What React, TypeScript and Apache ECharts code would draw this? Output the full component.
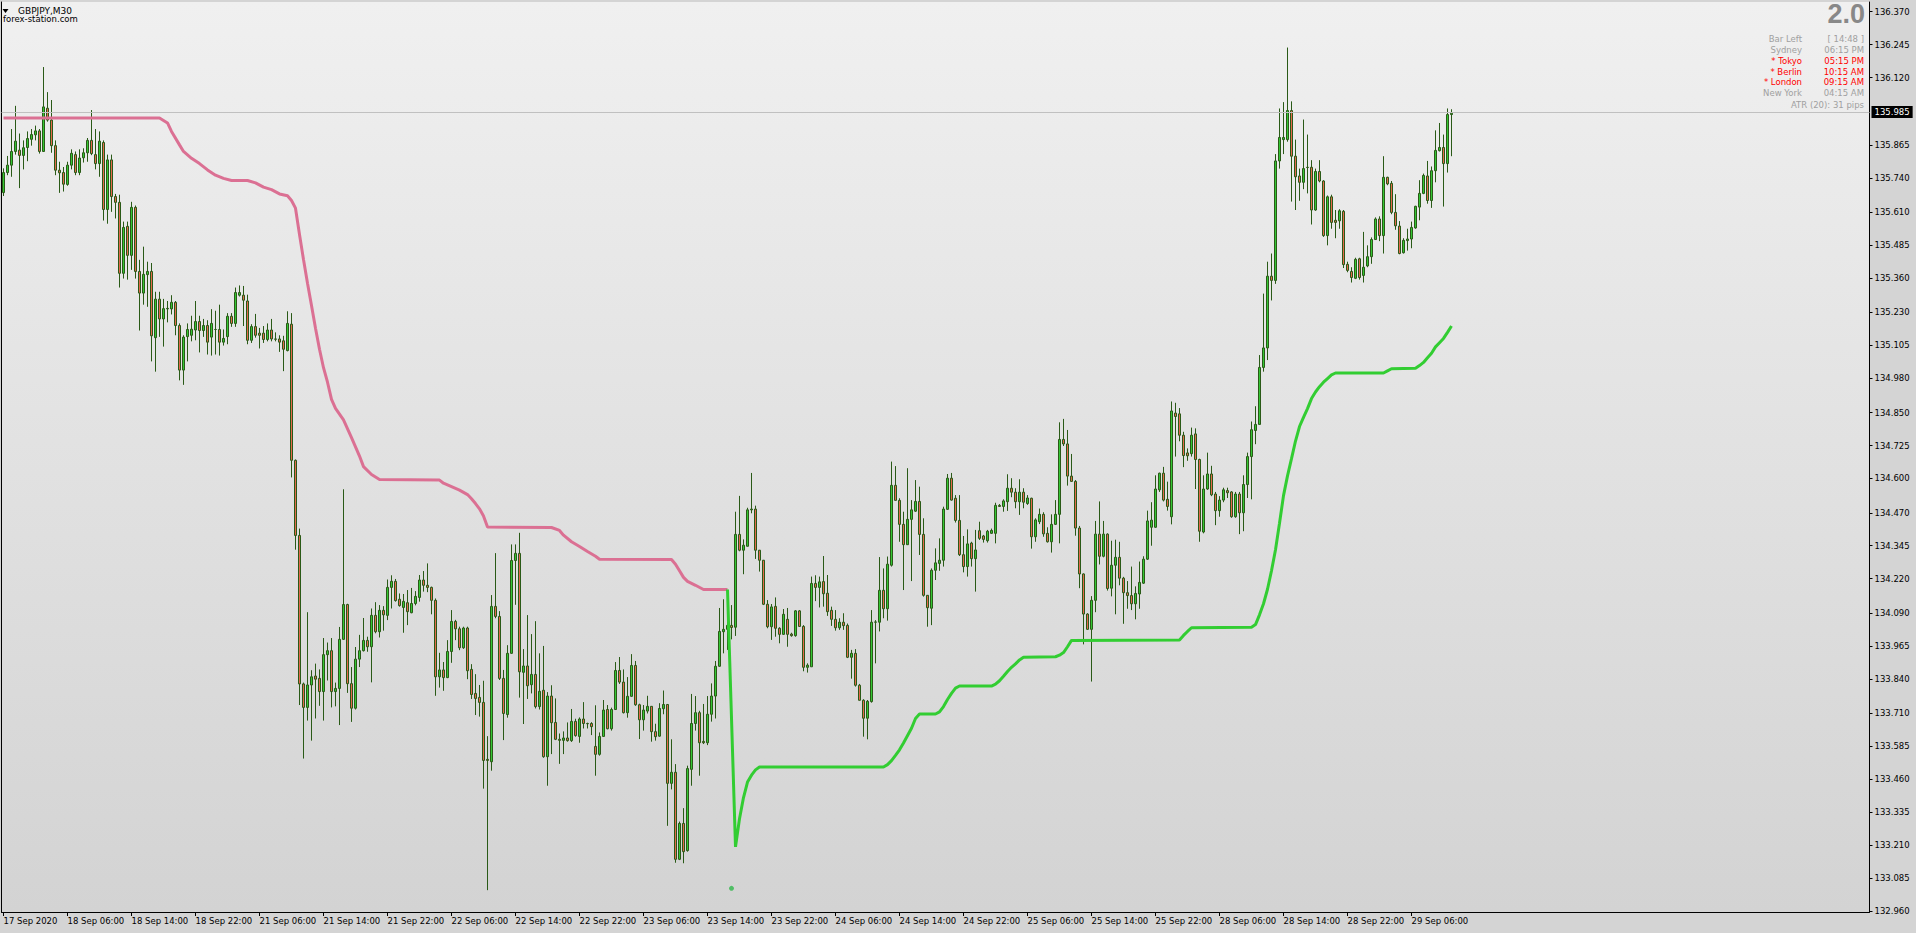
import React, { useEffect, useRef } from 'react';
import * as echarts from 'echarts';

const symbolTitle = 'GBPJPY,M30';
const siteLabel = 'forex-station.com';

const xTickLabels = [
  '17 Sep 2020', '18 Sep 06:00', '18 Sep 14:00', '18 Sep 22:00', '21 Sep 06:00', '21 Sep 14:00',
  '21 Sep 22:00', '22 Sep 06:00', '22 Sep 14:00', '22 Sep 22:00', '23 Sep 06:00', '23 Sep 14:00',
  '23 Sep 22:00', '24 Sep 06:00', '24 Sep 14:00', '24 Sep 22:00', '25 Sep 06:00', '25 Sep 14:00',
  '25 Sep 22:00', '28 Sep 06:00', '28 Sep 14:00', '28 Sep 22:00', '29 Sep 06:00',
];

const yTickValues = [
  132.960, 133.085, 133.210, 133.335, 133.460, 133.585, 133.710, 133.840, 133.965, 134.090,
  134.220, 134.345, 134.470, 134.600, 134.725, 134.850, 134.980, 135.105, 135.230, 135.360,
  135.485, 135.610, 135.740, 135.865, 136.120, 136.245, 136.370,
];

const opens = [
  135.684, 135.760, 135.788, 135.840, 135.845, 135.825, 135.855, 135.886, 135.903, 135.918,
  135.840, 136.004, 135.959, 135.862, 135.769, 135.760, 135.715, 135.788, 135.828, 135.760,
  135.816, 135.835, 135.882, 135.828, 135.794, 135.874, 135.620, 135.808, 135.669, 135.647,
  135.378, 135.556, 135.446, 135.628, 135.385, 135.303, 135.373, 135.385, 135.134, 135.280,
  135.205, 135.243, 135.243, 135.268, 135.180, 135.011, 135.138, 135.143, 135.163, 135.195,
  135.161, 135.180, 135.136, 135.165, 135.165, 135.117, 135.138, 135.215, 135.188, 135.295,
  135.295, 135.273, 135.124, 135.176, 135.151, 135.151, 135.127, 135.163, 135.129, 135.129,
  135.122, 135.085, 135.185, 134.669, 134.384, 133.821, 133.732, 133.817, 133.851, 133.842,
  133.792, 133.932, 133.947, 133.792, 133.804, 133.990, 134.122, 133.822, 133.729, 133.915,
  133.947, 133.986, 133.962, 134.081, 134.019, 134.100, 134.081, 134.187, 134.210, 134.142,
  134.111, 134.129, 134.091, 134.126, 134.149, 134.215, 134.195, 134.187, 134.138, 133.848,
  133.874, 133.845, 133.944, 134.058, 134.030, 133.958, 134.033, 133.876, 133.785, 133.770,
  133.751, 133.535, 133.526, 134.115, 134.077, 133.842, 133.705, 133.937, 134.289, 134.316,
  133.865, 133.889, 133.818, 133.857, 133.735, 133.797, 133.545, 133.775, 133.675, 133.611,
  133.607, 133.616, 133.606, 133.679, 133.622, 133.688, 133.671, 133.671, 133.584, 133.554,
  133.622, 133.724, 133.651, 133.724, 133.872, 133.828, 133.712, 133.774, 133.891, 133.742,
  133.685, 133.718, 133.736, 133.640, 133.623, 133.727, 133.743, 133.444, 133.486, 133.156,
  133.292, 133.189, 133.497, 133.671, 133.712, 133.603, 133.598, 133.706, 133.775, 133.888,
  134.019, 134.028, 134.043, 134.036, 134.388, 134.328, 134.343, 134.481, 134.484, 134.328,
  134.290, 134.123, 134.038, 134.115, 134.032, 134.009, 134.066, 134.010, 134.004, 134.098,
  134.039, 133.884, 133.886, 134.202, 134.187, 134.209, 134.165, 134.100, 134.066, 134.034,
  134.055, 134.043, 133.922, 133.937, 133.816, 133.759, 133.691, 133.754, 134.055, 134.055,
  134.176, 134.106, 134.271, 134.574, 134.517, 134.426, 134.349, 134.445, 134.476, 134.513,
  134.388, 134.157, 134.108, 134.252, 134.278, 134.290, 134.483, 134.601, 134.525, 134.441,
  134.311, 134.266, 134.355, 134.296, 134.402, 134.382, 134.364, 134.392, 134.392, 134.498,
  134.494, 134.512, 134.563, 134.548, 134.512, 134.548, 134.505, 134.525, 134.379, 134.436,
  134.464, 134.392, 134.360, 134.426, 134.464, 134.748, 134.731, 134.609, 134.589, 134.412,
  134.238, 134.086, 134.028, 134.138, 134.389, 134.305, 134.389, 134.184, 134.271, 134.301,
  134.222, 134.167, 134.156, 134.125, 134.162, 134.203, 134.294, 134.415, 134.415, 134.557,
  134.620, 134.521, 134.455, 134.848, 134.845, 134.764, 134.697, 134.694, 134.769, 134.672,
  134.397, 134.560, 134.617, 134.541, 134.478, 134.518, 134.554, 134.549, 134.455, 134.541,
  134.470, 134.577, 134.683, 134.782, 134.805, 135.021, 135.095, 135.367, 135.351, 135.804,
  135.885, 135.885, 135.995, 135.822, 135.747, 135.723, 135.780, 135.780, 135.618, 135.764,
  135.728, 135.521, 135.668, 135.579, 135.577, 135.613, 135.412, 135.385, 135.359, 135.433,
  135.370, 135.406, 135.441, 135.506, 135.584, 135.521, 135.742, 135.719, 135.609, 135.557,
  135.456, 135.502, 135.508, 135.550, 135.629, 135.681, 135.747, 135.654, 135.767, 135.843,
  135.855, 135.794, 135.980,
];

const highs = [
  135.776, 135.823, 135.925, 136.013, 135.908, 135.882, 135.916, 135.925, 135.938, 135.925,
  136.160, 136.065, 136.035, 135.882, 135.801, 135.781, 135.801, 135.848, 135.840, 135.848,
  135.852, 135.891, 135.997, 135.925, 135.916, 135.882, 135.828, 135.828, 135.679, 135.676,
  135.574, 135.574, 135.649, 135.635, 135.429, 135.479, 135.422, 135.417, 135.308, 135.308,
  135.281, 135.273, 135.295, 135.273, 135.188, 135.143, 135.188, 135.217, 135.273, 135.217,
  135.205, 135.200, 135.242, 135.236, 135.259, 135.165, 135.227, 135.227, 135.324, 135.332,
  135.330, 135.297, 135.185, 135.224, 135.171, 135.178, 135.188, 135.205, 135.154, 135.143,
  135.141, 135.234, 135.227, 134.672, 134.410, 133.826, 134.093, 133.873, 133.898, 133.876,
  133.995, 133.978, 133.995, 133.826, 134.037, 134.559, 134.125, 133.885, 133.961, 134.007,
  134.071, 134.000, 134.107, 134.131, 134.120, 134.116, 134.217, 134.233, 134.219, 134.164,
  134.162, 134.177, 134.185, 134.173, 134.234, 134.249, 134.278, 134.190, 134.145, 133.939,
  133.904, 133.987, 134.101, 134.064, 134.038, 134.038, 134.038, 133.896, 133.858, 133.817,
  133.833, 133.623, 134.158, 134.317, 134.097, 133.874, 133.968, 134.350, 134.350, 134.394,
  133.953, 134.082, 134.010, 134.059, 133.937, 133.965, 133.790, 133.816, 133.766, 133.633,
  133.641, 133.675, 133.726, 133.689, 133.694, 133.752, 133.674, 133.676, 133.740, 133.637,
  133.760, 133.741, 133.731, 133.904, 133.923, 133.876, 133.847, 133.934, 133.908, 133.746,
  133.741, 133.776, 133.737, 133.670, 133.748, 133.796, 133.745, 133.611, 133.517, 133.299,
  133.350, 133.511, 133.783, 133.775, 133.719, 133.745, 133.775, 133.823, 133.908, 134.109,
  134.142, 134.101, 134.120, 134.474, 134.534, 134.369, 134.489, 134.621, 134.497, 134.329,
  134.291, 134.139, 134.124, 134.149, 134.036, 134.105, 134.109, 134.015, 134.101, 134.101,
  134.044, 133.899, 134.228, 134.233, 134.228, 134.306, 134.234, 134.114, 134.101, 134.070,
  134.089, 134.050, 133.950, 133.953, 133.821, 133.763, 133.760, 134.101, 134.063, 134.302,
  134.259, 134.304, 134.664, 134.647, 134.525, 134.474, 134.639, 134.518, 134.594, 134.569,
  134.449, 134.158, 134.259, 134.335, 134.373, 134.493, 134.617, 134.621, 134.537, 134.537,
  134.382, 134.407, 134.360, 134.405, 134.436, 134.386, 134.405, 134.410, 134.508, 134.503,
  134.521, 134.616, 134.601, 134.563, 134.597, 134.563, 134.537, 134.527, 134.449, 134.486,
  134.472, 134.415, 134.464, 134.518, 134.813, 134.826, 134.784, 134.693, 134.594, 134.420,
  134.240, 134.089, 134.154, 134.439, 134.513, 134.439, 134.392, 134.364, 134.368, 134.360,
  134.227, 134.211, 134.266, 134.191, 134.285, 134.305, 134.478, 134.510, 134.612, 134.622,
  134.644, 134.588, 134.892, 134.887, 134.867, 134.777, 134.714, 134.793, 134.790, 134.675,
  134.612, 134.698, 134.648, 134.549, 134.533, 134.565, 134.565, 134.552, 134.549, 134.549,
  134.612, 134.698, 134.816, 134.874, 135.068, 135.301, 135.422, 135.453, 135.830, 136.003,
  136.027, 136.234, 136.030, 135.885, 135.775, 135.961, 135.904, 135.807, 135.775, 135.807,
  135.731, 135.673, 135.676, 135.618, 135.621, 135.618, 135.422, 135.401, 135.437, 135.437,
  135.535, 135.484, 135.514, 135.590, 135.594, 135.822, 135.744, 135.728, 135.678, 135.576,
  135.511, 135.547, 135.574, 135.634, 135.731, 135.756, 135.804, 135.783, 135.920, 135.948,
  135.904, 136.003, 136.000,
];

const lows = [
  135.671, 135.750, 135.744, 135.828, 135.701, 135.772, 135.803, 135.862, 135.882, 135.832,
  135.838, 135.953, 135.835, 135.750, 135.683, 135.688, 135.710, 135.772, 135.750, 135.750,
  135.798, 135.801, 135.826, 135.772, 135.744, 135.578, 135.566, 135.611, 135.586, 135.324,
  135.358, 135.354, 135.391, 135.358, 135.161, 135.259, 135.251, 135.044, 135.005, 135.137,
  135.100, 135.192, 135.222, 135.143, 134.972, 134.955, 135.044, 135.120, 135.124, 135.078,
  135.137, 135.070, 135.066, 135.070, 135.066, 135.104, 135.109, 135.175, 135.175, 135.290,
  135.178, 135.109, 135.114, 135.134, 135.093, 135.114, 135.120, 135.120, 135.120, 135.080,
  135.007, 135.082, 134.604, 134.330, 133.741, 133.538, 133.682, 133.606, 133.690, 133.738,
  133.682, 133.834, 133.732, 133.736, 133.665, 133.988, 133.787, 133.677, 133.724, 133.885,
  133.944, 133.943, 133.827, 134.013, 133.997, 134.023, 134.063, 134.107, 134.133, 134.114,
  134.015, 134.044, 134.089, 134.119, 134.133, 134.171, 134.169, 134.085, 133.776, 133.807,
  133.795, 133.843, 133.901, 133.987, 133.949, 133.954, 133.839, 133.764, 133.703, 133.697,
  133.424, 133.039, 133.492, 134.070, 133.836, 133.608, 133.693, 133.935, 134.121, 133.769,
  133.669, 133.764, 133.785, 133.728, 133.724, 133.541, 133.435, 133.555, 133.608, 133.518,
  133.555, 133.602, 133.601, 133.621, 133.598, 133.652, 133.652, 133.627, 133.473, 133.549,
  133.621, 133.649, 133.644, 133.722, 133.821, 133.709, 133.693, 133.772, 133.738, 133.612,
  133.644, 133.709, 133.602, 133.606, 133.621, 133.706, 133.283, 133.421, 133.143, 133.153,
  133.141, 133.185, 133.435, 133.644, 133.473, 133.593, 133.589, 133.678, 133.690, 133.886,
  133.937, 133.950, 133.990, 134.003, 134.324, 134.237, 134.342, 134.468, 134.295, 134.247,
  134.120, 134.032, 133.988, 134.000, 133.975, 134.007, 133.962, 134.000, 134.000, 134.038,
  133.869, 133.864, 133.886, 134.135, 134.111, 134.114, 134.079, 134.041, 134.023, 134.026,
  134.026, 133.919, 133.841, 133.811, 133.758, 133.621, 133.611, 133.750, 133.899, 134.020,
  134.070, 134.061, 134.266, 134.516, 134.360, 134.177, 134.348, 134.211, 134.473, 134.310,
  134.152, 134.038, 134.044, 134.215, 134.250, 134.266, 134.481, 134.516, 134.433, 134.306,
  134.244, 134.228, 134.266, 134.171, 134.367, 134.357, 134.357, 134.390, 134.354, 134.492,
  134.474, 134.477, 134.529, 134.487, 134.462, 134.487, 134.500, 134.334, 134.360, 134.427,
  134.379, 134.357, 134.319, 134.424, 134.354, 134.723, 134.573, 134.588, 134.383, 134.184,
  133.971, 134.026, 133.830, 134.093, 134.274, 134.301, 134.175, 134.153, 134.085, 134.195,
  134.049, 134.106, 134.101, 134.066, 134.106, 134.200, 134.291, 134.345, 134.413, 134.549,
  134.513, 134.478, 134.426, 134.683, 134.741, 134.643, 134.667, 134.683, 134.560, 134.360,
  134.392, 134.557, 134.533, 134.423, 134.455, 134.510, 134.526, 134.451, 134.451, 134.389,
  134.400, 134.526, 134.521, 134.730, 134.805, 135.005, 135.049, 135.275, 135.338, 135.775,
  135.830, 135.877, 135.650, 135.618, 135.653, 135.697, 135.681, 135.563, 135.615, 135.723,
  135.516, 135.484, 135.547, 135.511, 135.547, 135.398, 135.382, 135.343, 135.356, 135.354,
  135.343, 135.401, 135.414, 135.505, 135.500, 135.453, 135.712, 135.602, 135.543, 135.450,
  135.453, 135.464, 135.473, 135.547, 135.579, 135.678, 135.642, 135.626, 135.723, 135.840,
  135.631, 135.760, 135.822,
];

const closes = [
  135.760, 135.788, 135.840, 135.879, 135.825, 135.854, 135.889, 135.904, 135.918, 135.840,
  136.009, 135.959, 135.862, 135.769, 135.759, 135.716, 135.788, 135.833, 135.760, 135.815,
  135.835, 135.882, 135.832, 135.794, 135.879, 135.620, 135.808, 135.669, 135.647, 135.378,
  135.552, 135.446, 135.628, 135.385, 135.303, 135.374, 135.385, 135.141, 135.280, 135.205,
  135.244, 135.245, 135.268, 135.180, 135.011, 135.136, 135.165, 135.166, 135.195, 135.161,
  135.180, 135.117, 135.188, 135.165, 135.117, 135.131, 135.215, 135.188, 135.305, 135.305,
  135.276, 135.124, 135.176, 135.143, 135.143, 135.127, 135.163, 135.129, 135.128, 135.117,
  135.090, 135.188, 134.669, 134.384, 133.821, 133.732, 133.817, 133.848, 133.839, 133.792,
  133.932, 133.947, 133.792, 133.804, 133.990, 134.122, 133.822, 133.729, 133.915, 133.947,
  133.986, 133.962, 134.081, 134.019, 134.100, 134.083, 134.187, 134.210, 134.137, 134.118,
  134.134, 134.095, 134.126, 134.153, 134.215, 134.195, 134.187, 134.138, 133.848, 133.874,
  133.845, 133.944, 134.058, 134.030, 133.958, 134.033, 133.871, 133.781, 133.766, 133.751,
  133.531, 133.531, 134.115, 134.077, 133.842, 133.709, 133.937, 134.289, 134.316, 133.867,
  133.889, 133.814, 133.857, 133.735, 133.793, 133.545, 133.775, 133.674, 133.611, 133.607,
  133.616, 133.606, 133.679, 133.625, 133.688, 133.671, 133.670, 133.659, 133.554, 133.622,
  133.722, 133.651, 133.724, 133.872, 133.828, 133.712, 133.774, 133.891, 133.742, 133.685,
  133.722, 133.736, 133.640, 133.621, 133.728, 133.743, 133.444, 133.486, 133.156, 133.292,
  133.185, 133.500, 133.671, 133.712, 133.598, 133.598, 133.706, 133.775, 133.888, 134.020,
  134.028, 134.043, 134.035, 134.388, 134.328, 134.347, 134.481, 134.484, 134.328, 134.290,
  134.123, 134.038, 134.113, 134.032, 134.009, 134.085, 134.009, 134.004, 134.098, 134.039,
  133.884, 133.892, 134.202, 134.187, 134.208, 134.163, 134.095, 134.066, 134.034, 134.055,
  134.042, 133.922, 133.937, 133.816, 133.759, 133.691, 133.755, 134.055, 134.056, 134.176,
  134.106, 134.275, 134.574, 134.517, 134.426, 134.349, 134.445, 134.481, 134.513, 134.388,
  134.157, 134.110, 134.252, 134.280, 134.290, 134.484, 134.601, 134.518, 134.441, 134.311,
  134.266, 134.352, 134.296, 134.329, 134.373, 134.369, 134.400, 134.403, 134.498, 134.494,
  134.515, 134.563, 134.548, 134.512, 134.548, 134.510, 134.526, 134.379, 134.443, 134.464,
  134.390, 134.360, 134.426, 134.464, 134.748, 134.731, 134.609, 134.589, 134.412, 134.238,
  134.086, 134.028, 134.138, 134.389, 134.305, 134.389, 134.183, 134.271, 134.301, 134.222,
  134.167, 134.156, 134.125, 134.164, 134.206, 134.294, 134.439, 134.442, 134.560, 134.620,
  134.518, 134.494, 134.856, 134.835, 134.764, 134.687, 134.686, 134.764, 134.672, 134.400,
  134.560, 134.617, 134.538, 134.478, 134.518, 134.557, 134.546, 134.455, 134.541, 134.470,
  134.577, 134.683, 134.785, 134.805, 135.021, 135.095, 135.367, 135.351, 135.804, 135.893,
  135.893, 135.995, 135.822, 135.744, 135.723, 135.775, 135.779, 135.618, 135.764, 135.728,
  135.521, 135.668, 135.571, 135.571, 135.615, 135.411, 135.389, 135.362, 135.431, 135.362,
  135.401, 135.441, 135.506, 135.584, 135.521, 135.742, 135.717, 135.609, 135.558, 135.453,
  135.503, 135.508, 135.552, 135.632, 135.681, 135.749, 135.654, 135.767, 135.844, 135.855,
  135.794, 135.980, 135.985,
];

// Resistance (pink) trailing line: [bar index, price]
const resistanceLine = [
  [0, 135.967], [39, 135.967], [41, 135.948], [42, 135.916], [44, 135.865], [45, 135.840],
  [47, 135.814], [49, 135.794], [51, 135.770], [53, 135.750], [55, 135.738], [57, 135.730],
  [61, 135.730], [63, 135.721], [65, 135.705], [67, 135.695], [69, 135.679], [71, 135.672],
  [72, 135.654], [73, 135.625], [74, 135.525], [75, 135.430], [76, 135.340], [77, 135.256],
  [78, 135.170], [79, 135.090], [80, 135.020], [81, 134.965], [82, 134.900], [83, 134.866],
  [85, 134.822], [87, 134.755], [89, 134.685], [90, 134.645], [92, 134.615], [94, 134.596],
  [109, 134.594], [110, 134.582], [112, 134.569], [114, 134.556], [116, 134.539], [117, 134.523],
  [118, 134.505], [119, 134.485], [120, 134.458], [121, 134.416], [137, 134.414], [139, 134.403],
  [140, 134.385], [142, 134.360], [144, 134.342], [146, 134.323], [148, 134.305], [149, 134.294],
  [167, 134.293], [168, 134.275], [169, 134.250], [170, 134.225], [171, 134.210], [173, 134.195],
  [175, 134.179], [181, 134.179],
];

// Support (green) trailing line: [bar index, price]
const supportLine = [
  [181, 134.179], [183, 133.203], [184, 133.310], [185, 133.390], [186, 133.449], [187, 133.475],
  [188, 133.495], [189, 133.506], [220, 133.506], [221, 133.515], [222, 133.530], [223, 133.550],
  [224, 133.571], [225, 133.597], [227, 133.653], [228, 133.690], [229, 133.707], [233, 133.707],
  [234, 133.715], [235, 133.735], [236, 133.762], [237, 133.785], [238, 133.805], [239, 133.813],
  [247, 133.813], [248, 133.820], [249, 133.833], [250, 133.850], [251, 133.868], [252, 133.884],
  [253, 133.897], [254, 133.912], [255, 133.922], [263, 133.924], [264, 133.930], [265, 133.940],
  [266, 133.962], [267, 133.986], [294, 133.988], [295, 134.005], [296, 134.020], [297, 134.034],
  [312, 134.036], [313, 134.046], [314, 134.083], [315, 134.125], [316, 134.180], [317, 134.250],
  [318, 134.330], [319, 134.430], [320, 134.535], [321, 134.610], [322, 134.675], [323, 134.742],
  [324, 134.797], [325, 134.832], [326, 134.865], [327, 134.903], [328, 134.928], [329, 134.948],
  [330, 134.965], [331, 134.979], [332, 134.993], [333, 135.000], [345, 135.000], [346, 135.008],
  [347, 135.016], [353, 135.018], [354, 135.028], [355, 135.040], [356, 135.058], [357, 135.075],
  [358, 135.099], [359, 135.115], [360, 135.131], [361, 135.154], [362, 135.178],
];

const signalDots = [[182, 133.046]];

const lastPrice = 135.985;

const infoTitle = '2.0';
const infoLabels = ['Bar Left', 'Sydney', '* Tokyo', '* Berlin', '* London', 'New York'];
const infoValues = ['[ 14:48 ]', '06:15 PM', '05:15 PM', '10:15 AM', '09:15 AM', '04:15 AM'];
const infoActive = [false, false, true, true, true, false];
const atrText = 'ATR (20): 31 pips';

const TOTAL_SLOTS = 467;
const LABEL_STEP = 16;
const Y_MIN = 132.9562;
const Y_MAX = 136.4067;

const FONT = '"DejaVu Sans", Verdana, sans-serif';

export default function App() {
  const ref = useRef<HTMLDivElement>(null);

  useEffect(() => {
    document.body.style.margin = '0';
    if (!ref.current) return;
    const chart = echarts.init(ref.current, null, { renderer: 'svg' });

    const categories = Array.from({ length: TOTAL_SLOTS }, (_, i) => String(i));
    const candles = opens.map((o, i) => [o, closes[i], lows[i], highs[i]]);
    const lastLabelIndex = (xTickLabels.length - 1) * LABEL_STEP;
    const showTick = (index: number) => index % LABEL_STEP === 0 && index <= lastLabelIndex;

    const panelRight = 1864;
    const panelLabelRight = 1802;
    const rowY = [39, 50, 61, 71.5, 82.3, 93.2];

    const graphics: any[] = [
      {
        type: 'polygon',
        shape: { points: [[2.5, 9], [8.5, 9], [5.5, 13]] },
        style: { fill: '#000' },
      },
      {
        type: 'text', x: 18, y: 10.5,
        style: { text: symbolTitle, fill: '#000', fontSize: 9, fontFamily: FONT, verticalAlign: 'middle', align: 'left' },
      },
      {
        type: 'text', x: 3, y: 18.5,
        style: { text: siteLabel, fill: '#000', fontSize: 8.5, fontFamily: FONT, verticalAlign: 'middle', align: 'left' },
      },
      {
        type: 'text', x: panelRight + 1, y: 14,
        style: {
          text: infoTitle, fill: '#888888', fontSize: 27, fontWeight: 'bold',
          fontFamily: '"Liberation Sans", Arial, sans-serif', align: 'right', verticalAlign: 'middle',
        },
      },
    ];
    infoLabels.forEach((label, k) => {
      const color = infoActive[k] ? '#ff0000' : '#a0a0a0';
      graphics.push({
        type: 'text', x: panelLabelRight, y: rowY[k],
        style: { text: label, fill: color, fontSize: 8.5, fontFamily: FONT, align: 'right', verticalAlign: 'middle' },
      });
      graphics.push({
        type: 'text', x: panelRight, y: rowY[k],
        style: { text: infoValues[k], fill: color, fontSize: 8.5, fontFamily: FONT, align: 'right', verticalAlign: 'middle' },
      });
    });
    graphics.push({
      type: 'text', x: panelRight, y: 104.5,
      style: { text: atrText, fill: '#a0a0a0', fontSize: 8.5, fontFamily: FONT, align: 'right', verticalAlign: 'middle' },
    });

    const option: any = {
      animation: false,
      backgroundColor: '#d4d4d4',
      grid: {
        left: 1.5, right: 46.5, top: 2, bottom: 21,
        show: true,
        borderWidth: 0,
        backgroundColor: new echarts.graphic.LinearGradient(0, 0, 0, 1, [
          { offset: 0, color: '#f0f0f0' },
          { offset: 1, color: '#d3d3d3' },
        ]),
      },
      xAxis: {
        type: 'category',
        data: categories,
        boundaryGap: true,
        axisLine: { show: true, onZero: false, lineStyle: { color: '#000', width: 1 } },
        axisTick: { show: true, alignWithLabel: true, interval: (i: number) => showTick(i), length: 4, lineStyle: { color: '#000' } },
        axisLabel: {
          show: true,
          interval: (i: number) => showTick(i),
          formatter: (_v: string, i: number) => xTickLabels[i / LABEL_STEP] ?? '',
          align: 'left',
          margin: 4,
          color: '#000',
          fontSize: 8.5,
          fontFamily: FONT,
        },
        splitLine: { show: false },
      },
      yAxis: [
        {
          type: 'value',
          position: 'right',
          min: Y_MIN,
          max: Y_MAX,
          splitLine: { show: false },
          axisLine: { show: true, onZero: false, lineStyle: { color: '#000', width: 1 } },
          axisTick: { show: true, length: 3, customValues: yTickValues, lineStyle: { color: '#000' } },
          axisLabel: {
            show: true,
            customValues: yTickValues,
            formatter: (v: number) => v.toFixed(3),
            margin: 5,
            color: '#000',
            fontSize: 8.5,
            fontFamily: FONT,
          },
        },
        {
          type: 'value',
          position: 'left',
          min: Y_MIN,
          max: Y_MAX,
          splitLine: { show: false },
          axisLine: { show: true, onZero: false, lineStyle: { color: '#000', width: 1 } },
          axisTick: { show: false },
          axisLabel: { show: false },
        },
      ],
      series: [
        {
          type: 'candlestick',
          yAxisIndex: 0,
          data: candles,
          barWidth: 2,
          itemStyle: {
            color: '#34c734',
            color0: '#e4694c',
            borderColor: '#2a5a17',
            borderColor0: '#2a5a17',
            borderWidth: 1,
          },
          markLine: {
            silent: true,
            symbol: ['none', 'none'],
            lineStyle: { color: '#c0c0c0', width: 1, type: 'solid' },
            label: {
              show: true,
              position: 'end',
              formatter: () => lastPrice.toFixed(3),
              color: '#fff',
              backgroundColor: '#000',
              padding: [2, 3, 1, 3],
              distance: 2,
              fontSize: 8.5,
              fontFamily: FONT,
            },
            data: [{ yAxis: lastPrice }],
          },
        },
        {
          type: 'line',
          yAxisIndex: 0,
          data: resistanceLine,
          symbol: 'none',
          lineStyle: { color: '#db7093', width: 3 },
          z: 3,
        },
        {
          type: 'line',
          yAxisIndex: 0,
          data: supportLine,
          symbol: 'none',
          lineStyle: { color: '#32cd32', width: 3 },
          z: 3,
        },
        {
          type: 'scatter',
          yAxisIndex: 0,
          data: signalDots,
          symbol: 'circle',
          symbolSize: 5,
          itemStyle: { color: '#2fb84a' },
          z: 4,
        },
      ],
      graphic: graphics,
    };

    chart.setOption(option);
    return () => chart.dispose();
  }, []);

  return <div ref={ref} style={{ width: 1916, height: 933 }} />;
}
